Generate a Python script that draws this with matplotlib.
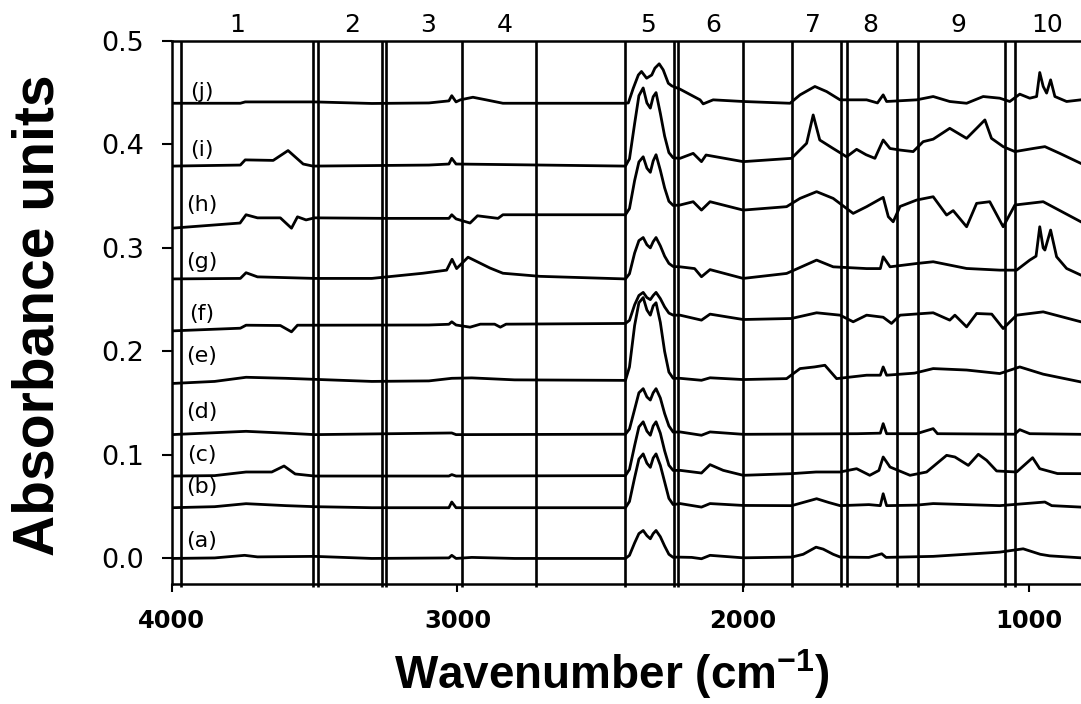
import numpy as np
import matplotlib
matplotlib.use("Agg")
import matplotlib.pyplot as plt

## Data  (wavenumber cm-1, absorbance)

labels = ["(a)", "(b)", "(c)", "(d)", "(e)", "(f)", "(g)", "(h)", "(i)", "(j)"]

# CO2 band wavenumbers (shared by spectra a..i)
co2_wn = [2412, 2398, 2380, 2365, 2350, 2337, 2325, 2315, 2305, 2290, 2275, 2260, 2245]

spec_a = [(4000, 0.0), (3850, 0.0005), (3745, 0.003), (3700, 0.0015), (3500, 0.002),
          (3300, 0.0), (3030, 0.0005), (3020, 0.003), (3005, 0.0), (2950, 0.001), (2800, 0.0)] + \
    list(zip(co2_wn, [0.0, 0.003, 0.015, 0.024, 0.027, 0.022, 0.019, 0.024, 0.027, 0.021, 0.012, 0.004, 0.001])) + \
    [(2230, 0.0013), (2180, 0.001), (2146, -0.0003), (2116, 0.003), (2000, 0.0006), (1830, 0.0013),
     (1790, 0.004), (1745, 0.0109), (1720, 0.009), (1685, 0.004), (1660, 0.0013), (1560, 0.001),
     (1515, 0.0045), (1500, 0.001), (1335, 0.002), (1102, 0.0061), (1020, 0.0093), (960, 0.004),
     (927, 0.0025), (818, 0.0006)]

spec_b = [(4000, 0.049), (3850, 0.050), (3740, 0.0529), (3600, 0.051), (3500, 0.050), (3300, 0.049),
          (3030, 0.049), (3020, 0.0545), (3005, 0.049)] + \
    list(zip(co2_wn, [0.049, 0.055, 0.078, 0.096, 0.101, 0.092, 0.088, 0.097, 0.101, 0.090, 0.074, 0.058, 0.052])) + \
    [(2221, 0.053), (2146, 0.0496), (2116, 0.053), (2000, 0.0512), (1830, 0.051), (1743, 0.0577),
     (1700, 0.054), (1661, 0.051), (1560, 0.052), (1520, 0.051), (1510, 0.0625), (1498, 0.051),
     (1393, 0.0515), (1335, 0.053), (1102, 0.051), (944, 0.0545), (920, 0.051), (818, 0.0496)]

spec_c = [(4000, 0.0796), (3850, 0.080), (3740, 0.0835), (3650, 0.0835), (3607, 0.0893), (3568, 0.0816),
          (3500, 0.0796), (3030, 0.0796), (3020, 0.081), (3005, 0.0796)] + \
    list(zip(co2_wn, [0.080, 0.086, 0.109, 0.127, 0.132, 0.123, 0.119, 0.128, 0.132, 0.121, 0.104, 0.090, 0.085])) + \
    [(2221, 0.0851), (2146, 0.0825), (2116, 0.0906), (2070, 0.0851), (2000, 0.0803), (1831, 0.0819),
     (1745, 0.0835), (1661, 0.0835), (1603, 0.0867), (1557, 0.0803), (1525, 0.085), (1510, 0.098),
     (1486, 0.0883), (1416, 0.0803), (1358, 0.0835), (1288, 0.0996), (1259, 0.098), (1212, 0.0899),
     (1177, 0.1006), (1148, 0.0948), (1113, 0.0845), (1043, 0.0835), (987, 0.0973), (962, 0.0867),
     (900, 0.082), (818, 0.0819)]

spec_d = [(4000, 0.1196), (3740, 0.1228), (3600, 0.121), (3500, 0.1196), (3020, 0.1212), (3005, 0.1196)] + \
    list(zip(co2_wn, [0.120, 0.125, 0.144, 0.160, 0.164, 0.156, 0.153, 0.160, 0.164, 0.155, 0.140, 0.128, 0.122])) + \
    [(2221, 0.1222), (2146, 0.119), (2116, 0.1222), (2000, 0.1199), (1600, 0.1205), (1520, 0.121),
     (1510, 0.1302), (1498, 0.1205), (1393, 0.1205), (1335, 0.1254), (1320, 0.1205), (1050, 0.120),
     (1032, 0.1244), (997, 0.1205), (818, 0.1199)]

spec_e = [(4000, 0.169), (3850, 0.171), (3740, 0.175), (3600, 0.174), (3500, 0.173), (3300, 0.171),
          (3100, 0.1715), (3020, 0.174), (2950, 0.1744), (2800, 0.1725)] + \
    list(zip(co2_wn, [0.172, 0.185, 0.225, 0.247, 0.252, 0.240, 0.235, 0.244, 0.247, 0.228, 0.200, 0.180, 0.174])) + \
    [(2221, 0.174), (2146, 0.1721), (2116, 0.1745), (2000, 0.1728), (1848, 0.1737), (1801, 0.1834),
     (1750, 0.185), (1714, 0.1866), (1673, 0.1737), (1568, 0.177), (1520, 0.177), (1510, 0.185),
     (1498, 0.177), (1400, 0.179), (1335, 0.1834), (1218, 0.182), (1102, 0.1786), (1032, 0.185),
     (950, 0.178), (818, 0.1705)]

spec_f = [(4000, 0.2198), (3760, 0.2224), (3740, 0.2253), (3620, 0.225), (3581, 0.2189), (3560, 0.2253),
          (3500, 0.2253), (3100, 0.2255), (3030, 0.2262), (3020, 0.2286), (3005, 0.2255), (2956, 0.2234),
          (2920, 0.2263), (2870, 0.2263), (2850, 0.2234), (2830, 0.2263)] + \
    list(zip(co2_wn, [0.227, 0.230, 0.245, 0.254, 0.257, 0.252, 0.250, 0.254, 0.257, 0.251, 0.243, 0.237, 0.235])) + \
    [(2221, 0.235), (2146, 0.2302), (2116, 0.236), (2000, 0.2308), (1831, 0.2318), (1743, 0.2373),
     (1661, 0.235), (1615, 0.2286), (1568, 0.235), (1510, 0.233), (1481, 0.227), (1451, 0.235),
     (1335, 0.2373), (1277, 0.2302), (1259, 0.235), (1218, 0.2237), (1183, 0.2366), (1130, 0.236),
     (1090, 0.2221), (1043, 0.235), (950, 0.2382), (818, 0.2286)]

spec_g = [(4000, 0.270), (3760, 0.2705), (3740, 0.276), (3700, 0.272), (3500, 0.2705), (3300, 0.2705),
          (3121, 0.2755), (3038, 0.2785), (3019, 0.289), (3003, 0.280), (2963, 0.291), (2886, 0.2805),
          (2841, 0.2755), (2711, 0.2725)] + \
    list(zip(co2_wn, [0.270, 0.275, 0.295, 0.307, 0.310, 0.303, 0.300, 0.306, 0.310, 0.302, 0.292, 0.285, 0.282])) + \
    [(2221, 0.2817), (2170, 0.280), (2146, 0.2721), (2116, 0.279), (2000, 0.2705), (1848, 0.2753),
     (1743, 0.2882), (1685, 0.2817), (1568, 0.280), (1520, 0.280), (1510, 0.2914), (1486, 0.2817),
     (1393, 0.2849), (1335, 0.2866), (1218, 0.2801), (1102, 0.2785), (1043, 0.2785), (997, 0.2882),
     (975, 0.292), (962, 0.3204), (950, 0.300), (944, 0.2979), (924, 0.3172), (903, 0.2914),
     (868, 0.2801), (818, 0.2737)]

spec_h = [(4000, 0.319), (3761, 0.324), (3740, 0.332), (3700, 0.329), (3620, 0.329), (3581, 0.319),
          (3560, 0.330), (3530, 0.327), (3500, 0.329), (3250, 0.3285), (3030, 0.3285), (3020, 0.332),
          (3005, 0.328), (2956, 0.324), (2930, 0.331), (2858, 0.3285), (2841, 0.332)] + \
    list(zip(co2_wn, [0.332, 0.338, 0.365, 0.383, 0.388, 0.377, 0.373, 0.384, 0.390, 0.375, 0.358, 0.345, 0.341])) + \
    [(2221, 0.3414), (2175, 0.3446), (2146, 0.3365), (2116, 0.3446), (2000, 0.3365), (1848, 0.3398),
     (1801, 0.3478), (1743, 0.3543), (1685, 0.3478), (1615, 0.3333), (1568, 0.3398), (1510, 0.3488),
     (1492, 0.3301), (1475, 0.3252), (1451, 0.340), (1393, 0.3462), (1335, 0.3494), (1288, 0.3317),
     (1265, 0.336), (1218, 0.3204), (1183, 0.3430), (1137, 0.3446), (1090, 0.3204), (1049, 0.3414),
     (950, 0.3446), (818, 0.3252)]

spec_i = [(4000, 0.379), (3760, 0.380), (3743, 0.385), (3645, 0.3845), (3593, 0.394), (3540, 0.381),
          (3506, 0.379), (3100, 0.380), (3030, 0.381), (3020, 0.3865), (3005, 0.381), (2850, 0.3805)] + \
    list(zip(co2_wn, [0.379, 0.386, 0.420, 0.447, 0.4545, 0.440, 0.435, 0.446, 0.450, 0.430, 0.408, 0.392, 0.387])) + \
    [(2221, 0.3865), (2175, 0.3913), (2146, 0.3833), (2130, 0.3897), (2000, 0.3833), (1831, 0.3865),
     (1778, 0.401), (1755, 0.4284), (1732, 0.4042), (1685, 0.396), (1638, 0.388), (1603, 0.3952),
     (1570, 0.390), (1539, 0.3865), (1510, 0.4042), (1486, 0.396), (1451, 0.3945), (1405, 0.393),
     (1370, 0.4026), (1335, 0.405), (1277, 0.4155), (1218, 0.4058), (1183, 0.4155), (1154, 0.4236),
     (1131, 0.4058), (1090, 0.3978), (1049, 0.393), (985, 0.396), (944, 0.3978), (892, 0.3913),
     (818, 0.3816)]

spec_j = [(4000, 0.4397), (3760, 0.4397), (3743, 0.441), (3500, 0.441), (3300, 0.4395), (3100, 0.440),
          (3030, 0.442), (3020, 0.447), (3005, 0.441), (2990, 0.443), (2946, 0.4455), (2900, 0.443),
          (2841, 0.4397), (2412, 0.4397), (2402, 0.4400), (2385, 0.454), (2367, 0.467), (2356, 0.4704),
          (2338, 0.4639), (2320, 0.467), (2309, 0.4736), (2294, 0.4778), (2280, 0.472), (2262, 0.459),
          (2250, 0.4565), (2221, 0.4533), (2151, 0.443), (2140, 0.4391), (2105, 0.443), (2000, 0.4414),
          (1836, 0.4397), (1801, 0.4478), (1749, 0.4559), (1708, 0.451), (1661, 0.443), (1568, 0.443),
          (1530, 0.440), (1510, 0.4478), (1498, 0.4414), (1393, 0.4430), (1335, 0.4462), (1277, 0.4414),
          (1218, 0.4397), (1160, 0.4462), (1102, 0.4446), (1067, 0.4414), (1032, 0.4485), (997, 0.4446),
          (973, 0.4462), (962, 0.4694), (950, 0.456), (938, 0.4495), (924, 0.4623), (909, 0.4462),
          (868, 0.4414), (818, 0.4430)]

spectra = [spec_a, spec_b, spec_c, spec_d, spec_e, spec_f, spec_g, spec_h, spec_i, spec_j]

# label positions (absorbance where the curve name sits)
label_y = [0.017, 0.069, 0.100, 0.141, 0.196, 0.236, 0.286, 0.341, 0.395, 0.451]

# region boundaries and region numbers
boundaries = [3968, 3506, 3489, 3264, 3250, 2984, 2725, 2413, 2241, 2227,
              2000, 1829, 1658, 1637, 1462, 1389, 1084, 1049]
region_names = ["1", "2", "3", "4", "5", "6", "7", "8", "9", "10"]
region_pos = [3770, 3370, 3103, 2834, 2333, 2105, 1755, 1555, 1247, 937]


def main():
    plt.rcParams["mathtext.fontset"] = "custom"
    plt.rcParams["mathtext.bf"] = "Liberation Sans:bold"
    plt.rcParams["mathtext.rm"] = "Liberation Sans:bold"

    fig = plt.figure(figsize=(10.81, 7.04), dpi=100)
    ax = fig.add_axes([0.1589, 0.170, 0.841, 0.772])

    ax.vlines(boundaries, -0.028, 0.5, colors="black", linewidth=1.9, clip_on=False)

    for spec in spectra:
        wn, ab = zip(*spec)
        ax.plot(wn, ab, color="black", linewidth=2.0, solid_joinstyle="round")

    for lab, y in zip(labels, label_y):
        ax.text(3895, y, lab, ha="center", va="center", fontsize=16,
                family="DejaVu Sans")

    for name, x in zip(region_names, region_pos):
        ax.text(x, 0.504, name, ha="center", va="bottom", fontsize=18,
                family="DejaVu Sans", clip_on=False)

    ax.set_xlim(4000, 818)
    ax.set_ylim(-0.025, 0.5)
    ax.set_xticks([4000, 3000, 2000, 1000])
    ax.set_yticks([0.0, 0.1, 0.2, 0.3, 0.4, 0.5])
    ax.set_yticklabels(["0.0", "0.1", "0.2", "0.3", "0.4", "0.5"],
                       fontsize=19.5, family="DejaVu Sans")
    ax.set_xticklabels(["4000", "3000", "2000", "1000"], fontsize=17.5,
                       fontweight="bold", family="DejaVu Sans")
    ax.tick_params(axis="x", direction="out", length=6, width=1.5, pad=12)
    ax.tick_params(axis="y", direction="out", length=7, width=1.5, pad=13)

    for side in ["left", "bottom", "top"]:
        ax.spines[side].set_linewidth(1.8)
    ax.spines["right"].set_visible(False)

    fig.text(0.566, 0.042, "Wavenumber (cm$^{\\mathbf{-1}}$)", ha="center", va="center",
             fontsize=33, fontweight="bold", family="Liberation Sans")
    fig.text(0.036, 0.553, "Absorbance units", ha="center", va="center", rotation=90,
             fontsize=41, fontweight="bold", family="Liberation Sans")

    fig.savefig("out.png", dpi=100)


if __name__ == "__main__":
    main()
